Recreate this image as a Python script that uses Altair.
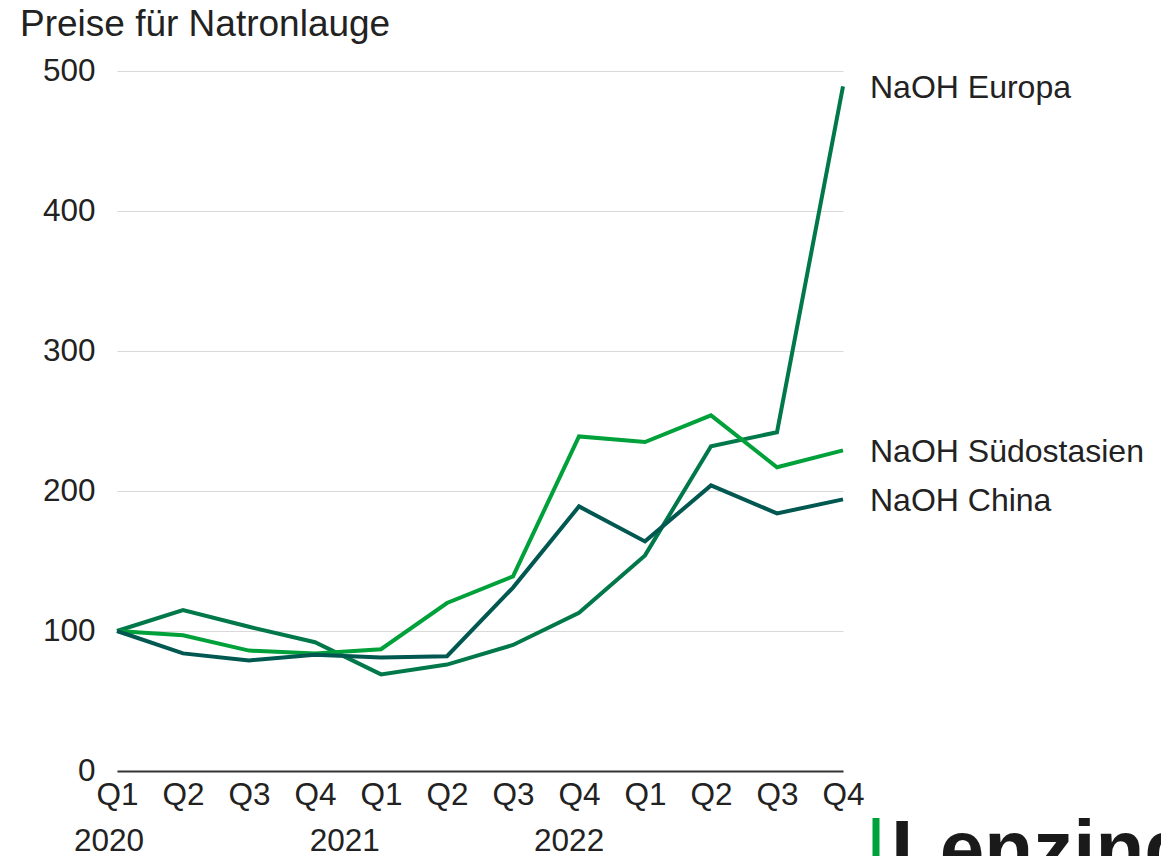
import altair as alt
import pandas as pd

quarters = ["Q1", "Q2", "Q3", "Q4", "Q1", "Q2", "Q3", "Q4", "Q1", "Q2", "Q3", "Q4"]
europa = [100, 115, 103, 92, 69, 76, 90, 113, 154, 232, 242, 489]
suedostasien = [100, 97, 86, 84, 87, 120, 139, 239, 235, 254, 217, 229]
china = [100, 84, 79, 83, 81, 82, 131, 189, 164, 204, 184, 194]

series_names = ["NaOH Europa", "NaOH Südostasien", "NaOH China"]
series_colors = ["#00784a", "#00a13b", "#005850"]

years = ["2020", "2021", "2022"]
year_pos = [-0.12, 3.45, 6.85]

FONT = "Liberation Sans"
TXT = "#222222"

rows = []
for name, vals in zip(series_names, [europa, suedostasien, china]):
    for i, v in enumerate(vals):
        rows.append({"idx": i, "value": v, "series": name})
df = pd.DataFrame(rows)
last = df[df["idx"] == len(quarters) - 1]
ydf = pd.DataFrame({"year": years, "pos": year_pos})

label_expr = "[" + ",".join(f"'{q}'" for q in quarters) + "][datum.value]"

x_scale = alt.Scale(domain=[0, 11], nice=False, zero=False)
y_scale = alt.Scale(domain=[0, 500], nice=False)
color = alt.Color("series:N", scale=alt.Scale(domain=series_names, range=series_colors), legend=None)

lines = alt.Chart(df).mark_line(strokeWidth=4).encode(
    x=alt.X("idx:Q", scale=x_scale,
            axis=alt.Axis(values=list(range(12)), labelExpr=label_expr, title=None,
                          grid=False, ticks=False, domain=True, domainColor="#333333",
                          domainWidth=2, labelFont=FONT, labelFontSize=31.5, labelColor=TXT,
                          labelPadding=8, labelAngle=0, labelFlush=False,
                          labelOverlap=False, labelBound=False)),
    y=alt.Y("value:Q", scale=y_scale,
            axis=alt.Axis(values=[0, 100, 200, 300, 400, 500], title=None, grid=True,
                          gridColor="#d9d9d9", gridWidth=1, ticks=False, domain=False,
                          labelFont=FONT, labelFontSize=31.5, labelColor=TXT,
                          labelPadding=22, labelFlush=False)),
    color=color,
    detail="series:N",
)

end_labels = alt.Chart(last).mark_text(
    align="left", baseline="middle", dx=27, dy=2, font=FONT, fontSize=32, color=TXT
).encode(x=alt.X("idx:Q", scale=x_scale), y=alt.Y("value:Q", scale=y_scale), text="series:N")

year_labels = alt.Chart(ydf).mark_text(
    align="center", baseline="middle", font=FONT, fontSize=31.5, color=TXT
).encode(x=alt.X("pos:Q", scale=x_scale), y=alt.value(771), text="year:N")

title = alt.Chart(pd.DataFrame({"t": ["Preise für Natronlauge"]})).mark_text(
    align="left", baseline="alphabetic", font=FONT, fontSize=37, color=TXT
).encode(x=alt.value(-97), y=alt.value(-35), text="t:N")

logo_bar = alt.Chart(pd.DataFrame({"k": [1]})).mark_rule(
    color="#00a13b", strokeWidth=7
).encode(x=alt.value(759), y=alt.value(747), y2=alt.value(800))

logo_text = alt.Chart(pd.DataFrame({"t": ["Lenzing"]})).mark_text(
    align="left", baseline="alphabetic", font=FONT, fontSize=80, fontWeight="bold", color="#1a1a1a"
).encode(x=alt.value(774), y=alt.value(805), text="t:N")

chart = alt.layer(lines, end_labels, year_labels, title, logo_bar, logo_text).properties(
    width=726, height=700,
    autosize=alt.AutoSizeParams(type="none"),
    padding={"left": 109, "top": 63, "right": 318, "bottom": 85},
).configure_view(strokeWidth=0)

chart.save("out.html", embed_options={"renderer": "svg", "actions": False})
